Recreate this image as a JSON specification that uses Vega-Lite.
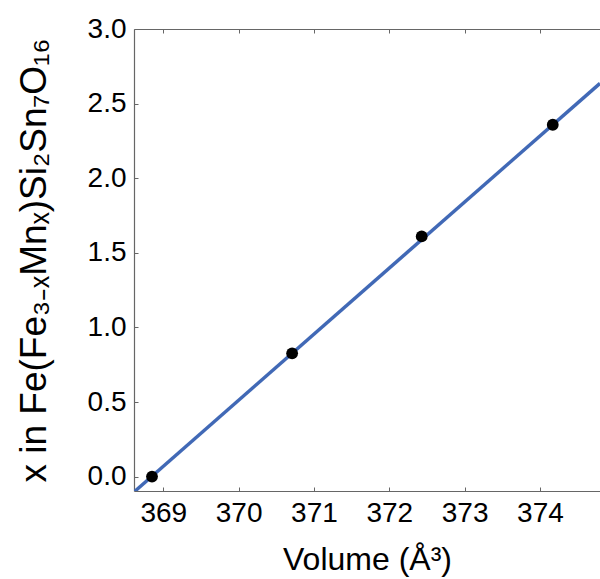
{
  "$schema": "https://vega.github.io/schema/vega-lite/v6.json",
  "autosize": "none",
  "padding": {"left": 134, "top": 29, "right": 0, "bottom": 88},
  "width": 466,
  "height": 462,
  "config": {
    "view": {"stroke": null},
    "font": "Liberation Sans"
  },
  "datasets": {
    "fit": [
      {"volume": 368.611, "x": -0.103},
      {"volume": 374.797, "x": 2.636}
    ],
    "measured": [
      {"volume": 368.85, "x": 0.0},
      {"volume": 370.71, "x": 0.826},
      {"volume": 372.43, "x": 1.61},
      {"volume": 374.17, "x": 2.358}
    ]
  },
  "resolve": {"axis": {"x": "independent", "y": "independent"}},
  "layer": [
    {
      "data": {"name": "fit"},
      "mark": {"type": "line", "color": "#4169b6", "strokeWidth": 3.5, "clip": true},
      "encoding": {
        "x": {
          "field": "volume", "type": "quantitative",
          "scale": {"domain": [368.611, 374.797], "zero": false, "nice": false},
          "axis": {
            "orient": "bottom", "values": [369, 370, 371, 372, 373, 374], "title": "Volume (Å³)",
            "domainColor": "#666666", "domainWidth": 1.2, "tickColor": "#666666", "tickWidth": 1, "tickSize": -4,
            "grid": false,
            "labelFont": "Liberation Sans", "labelFontSize": 28, "labelColor": "#000000", "labelPadding": 12,
            "titleFont": "Liberation Sans", "titleFontSize": 32, "titleFontWeight": "normal", "titleColor": "#000000", "titlePadding": 17
          }
        },
        "y": {
          "field": "x", "type": "quantitative",
          "scale": {"domain": [-0.0965, 3.0], "zero": false, "nice": false},
          "axis": {
            "orient": "left", "values": [0, 0.5, 1, 1.5, 2, 2.5, 3], "format": ".1f", "title": "x in Fe(Fe₃₋ₓMnₓ)Si₂Sn₇O₁₆",
            "domainColor": "#666666", "domainWidth": 1.2, "tickColor": "#666666", "tickWidth": 1, "tickSize": -4,
            "grid": false,
            "labelFont": "Liberation Sans", "labelFontSize": 28, "labelColor": "#000000", "labelPadding": 12,
            "titleFont": "Liberation Sans", "titleFontSize": 37, "titleFontWeight": "normal", "titleColor": "#000000", "titlePadding": 34
          }
        }
      }
    },
    {
      "data": {"name": "measured"},
      "mark": {"type": "circle", "color": "#000000", "opacity": 1, "size": 140},
      "encoding": {
        "x": {
          "field": "volume", "type": "quantitative",
          "axis": {
            "orient": "top", "values": [369, 370, 371, 372, 373, 374], "labels": false, "title": null,
            "domainColor": "#666666", "domainWidth": 1.2, "tickColor": "#666666", "tickWidth": 1, "tickSize": -4, "grid": false
          }
        },
        "y": {
          "field": "x", "type": "quantitative",
          "axis": null
        }
      }
    }
  ]
}
